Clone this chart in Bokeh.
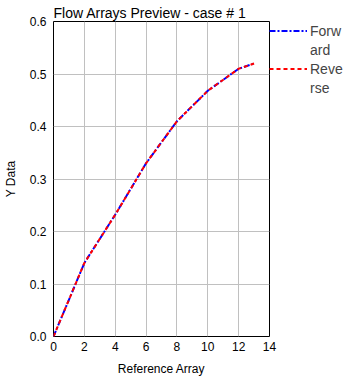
from bokeh.plotting import figure
from bokeh.models import Legend, LegendItem, FixedTicker, NumeralTickFormatter, Range1d
from bokeh.embed import file_html
from bokeh.resources import INLINE

# data
ref_array = [0, 2, 4, 6, 8, 10, 12, 13]
forward = [0.0, 0.14, 0.232, 0.33, 0.41, 0.468, 0.51, 0.52]
reverse = [0.0, 0.14, 0.232, 0.33, 0.41, 0.468, 0.51, 0.52]
x_ticks = [0, 2, 4, 6, 8, 10, 12, 14]
y_ticks = [0.0, 0.1, 0.2, 0.3, 0.4, 0.5, 0.6]
legend_lines = [["Forw", "ard"], ["Reve", "rse"]]

FONT = "Liberation Sans"

p = figure(frame_width=216, frame_height=315, output_backend="svg", toolbar_location=None,
           x_range=Range1d(0, 14), y_range=Range1d(0, 0.6),
           min_border_left=53, min_border_right=0, min_border_top=21, min_border_bottom=48,
           title="Flow Arrays Preview - case # 1")
p.background_fill_color = "white"
p.border_fill_color = "white"
p.outline_line_color = "black"
p.outline_line_width = 1
p.outline_line_alpha = 1.0

p.title.align = "left"
p.title.offset = 0
p.title.standoff = 1
p.title.text_font = FONT
p.title.text_font_size = "14px"
p.title.text_font_style = "normal"
p.title.text_color = "black"

for ax in (p.xaxis[0], p.yaxis[0]):
    ax.axis_line_color = None
    ax.major_tick_line_color = None
    ax.minor_tick_line_color = None
    ax.major_tick_out = 0
    ax.major_tick_in = 0
    ax.minor_tick_out = 0
    ax.minor_tick_in = 0
    ax.major_label_text_font = FONT
    ax.major_label_text_font_size = "12px"
    ax.major_label_text_color = "black"
    ax.axis_label_text_font = FONT
    ax.axis_label_text_font_size = "12px"
    ax.axis_label_text_font_style = "normal"
    ax.axis_label_text_color = "black"

p.xaxis[0].ticker = FixedTicker(ticks=x_ticks)
p.yaxis[0].ticker = FixedTicker(ticks=y_ticks)
p.yaxis[0].formatter = NumeralTickFormatter(format="0.0")
p.xaxis[0].axis_label = "Reference Array"
p.yaxis[0].axis_label = "Y Data"
p.xaxis[0].major_label_standoff = 5
p.yaxis[0].major_label_standoff = 7
p.xaxis[0].axis_label_standoff = 8
p.yaxis[0].axis_label_standoff = 9

p.xgrid[0].ticker = FixedTicker(ticks=x_ticks)
p.ygrid[0].ticker = FixedTicker(ticks=y_ticks)
p.grid.grid_line_color = "#c0c0c0"
p.grid.grid_line_width = 1

r1 = p.line(ref_array, forward, line_color="blue", line_width=2, line_dash="6 2 2 2")
r2 = p.line(ref_array, reverse, line_color="red", line_width=2, line_dash="4 3")
blank = p.line([], [], line_alpha=0)

items = [LegendItem(label=legend_lines[0][0], renderers=[r1]),
         LegendItem(label=legend_lines[0][1], renderers=[blank]),
         LegendItem(label=legend_lines[1][0], renderers=[r2]),
         LegendItem(label=legend_lines[1][1], renderers=[blank])]

legend = Legend(items=items,
                location="top_left", margin=0, padding=4, spacing=0,
                glyph_width=38, glyph_height=18, label_height=18,
                label_standoff=3, label_width=30,
                label_text_font=FONT, label_text_font_size="14px",
                border_line_color=None, background_fill_alpha=0)
legend.padding = 5
legend.glyph_height = 19
legend.label_height = 19
legend.label_standoff = 3
p.add_layout(legend, "right")

open("out.html", "w").write(file_html(p, INLINE))
